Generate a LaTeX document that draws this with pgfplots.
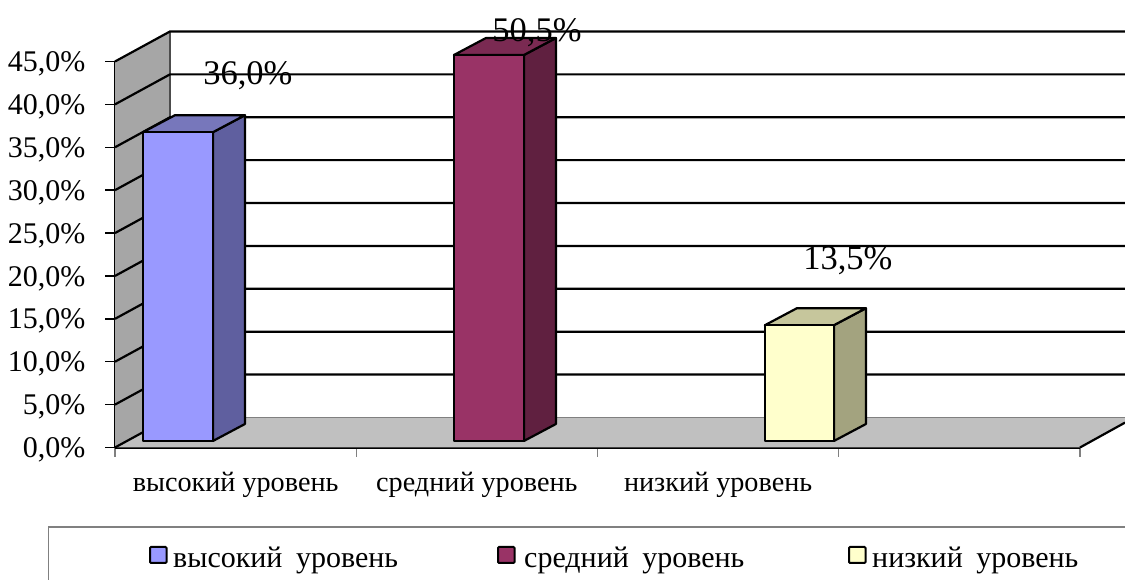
\documentclass[border=0pt]{standalone}
\usepackage{fontspec}
\setmainfont{Liberation Serif}
\usepackage{pgfplots}
\pgfplotsset{compat=1.18}
\definecolor{wallc}{HTML}{A6A6A6}
\definecolor{floorc}{HTML}{C0C0C0}
\definecolor{edgeg}{HTML}{808080}
\definecolor{af}{HTML}{9999FF}\definecolor{as}{HTML}{5F5F9F}\definecolor{at}{HTML}{7777BB}
\definecolor{bf}{HTML}{993366}\definecolor{bs}{HTML}{602040}\definecolor{bt}{HTML}{7A2A52}
\definecolor{cf}{HTML}{FFFFCC}\definecolor{cs}{HTML}{A3A37F}\definecolor{ct}{HTML}{C6C69C}
\newcommand{\fa}{\fontsize{30}{32}\selectfont}
\newcommand{\fb}{\fontsize{28.2}{30}\selectfont}
\newcommand{\fc}{\fontsize{34.5}{36}\selectfont}
\newcommand{\fd}{\fontsize{30}{32}\selectfont}
\begin{document}
\begin{tikzpicture}[x=1pt,y=1pt]
\path[use as bounding box] (0,0) rectangle (1125,580);
\clip (0,0) rectangle (1125,580);
\begin{axis}[
  at={(115pt,132.5pt)}, anchor=south west, scale only axis,
  width=965pt, height=386pt,
  xmin=0, xmax=4, ymin=0, ymax=45, clip=false,
  axis x line*=bottom, axis y line*=left,
  axis line style={-, black, line width=2.2pt},
  tick align=outside, major tick length=9.5pt,
  xtick={0,1,2,3,4}, x tick label as interval,
  xticklabels={высокий уровень,средний уровень,низкий уровень,{}},
  xtick style={edgeg, line width=1.2pt},
  ytick={0,5,10,15,20,25,30,35,40,45},
  yticklabels={{0,0\%},{5,0\%},{10,0\%},{15,0\%},{20,0\%},{25,0\%},{30,0\%},{35,0\%},{40,0\%},{45,0\%}},
  ytick style={black, line width=1.4pt},
  yticklabel style={font=\fa, inner sep=0pt, xshift=-20pt, yshift=-2.5pt},
  xticklabel style={font=\fb, inner sep=0pt, yshift=-15.5pt},
]
% wall and floor
\addplot[fill=wallc, draw=none] coordinates {(0,0)(0.228,3.5)(0.228,48.5)(0,45)} \closedcycle;
\addplot[fill=floorc, draw=none] coordinates {(0,0)(4,0)(4.1865,2.9)(4.1865,3.5)(0.228,3.5)} -- cycle;
\addplot[edgeg, line width=1.4pt] coordinates {(0.228,3.5)(4.1865,3.5)};
\addplot[black!70, line width=1.4pt] coordinates {(0.228,3.5)(0.228,48.5)};
\addplot[black, line width=2.2pt] coordinates {(4,0)(4.1865,2.9)};
% grid
\addplot[black, line width=2.2pt] coordinates {(0,0)(0.228,3.5)};
\addplot[black, line width=2.2pt] coordinates {(0,5)(0.228,8.5)(4.1865,8.5)};
\addplot[black, line width=2.2pt] coordinates {(0,10)(0.228,13.5)(4.1865,13.5)};
\addplot[black, line width=2.2pt] coordinates {(0,15)(0.228,18.5)(4.1865,18.5)};
\addplot[black, line width=2.2pt] coordinates {(0,20)(0.228,23.5)(4.1865,23.5)};
\addplot[black, line width=2.2pt] coordinates {(0,25)(0.228,28.5)(4.1865,28.5)};
\addplot[black, line width=2.2pt] coordinates {(0,30)(0.228,33.5)(4.1865,33.5)};
\addplot[black, line width=2.2pt] coordinates {(0,35)(0.228,38.5)(4.1865,38.5)};
\addplot[black, line width=2.2pt] coordinates {(0,40)(0.228,43.5)(4.1865,43.5)};
\addplot[black, line width=2.2pt] coordinates {(0,45)(0.228,48.5)(4.1865,48.5)};
% bar 1: 36.0
\addplot[fill=as, draw=black, line width=2.2pt, yshift=6.5pt, line join=round] coordinates {(0.406,0)(0.5386,1.98)(0.5386,37.98)(0.406,36)} -- cycle;
\addplot[fill=at, draw=black, line width=2.2pt, yshift=6.5pt, line join=round] coordinates {(0.116,36)(0.2486,37.98)(0.5386,37.98)(0.406,36)} -- cycle;
\addplot[fill=af, draw=black, line width=2.2pt, yshift=6.5pt, line join=round] coordinates {(0.116,0)(0.116,36)(0.406,36)(0.406,0)} -- cycle;
% bar 2: 50.5, cut off at the axis top 45
\addplot[fill=bs, draw=black, line width=2.2pt, yshift=6.5pt, line join=round] coordinates {(1.695,0)(1.8276,1.98)(1.8276,46.98)(1.695,45)} -- cycle;
\addplot[fill=bt, draw=black, line width=2.2pt, yshift=6.5pt, line join=round] coordinates {(1.405,45)(1.5376,46.98)(1.8276,46.98)(1.695,45)} -- cycle;
\addplot[fill=bf, draw=black, line width=2.2pt, yshift=6.5pt, line join=round] coordinates {(1.405,0)(1.405,45)(1.695,45)(1.695,0)} -- cycle;
% bar 3: 13.5
\addplot[fill=cs, draw=black, line width=2.2pt, yshift=6.5pt, line join=round] coordinates {(2.98,0)(3.1126,1.98)(3.1126,15.48)(2.98,13.5)} -- cycle;
\addplot[fill=ct, draw=black, line width=2.2pt, yshift=6.5pt, line join=round] coordinates {(2.694,13.5)(2.8266,15.48)(3.1126,15.48)(2.98,13.5)} -- cycle;
\addplot[fill=cf, draw=black, line width=2.2pt, yshift=6.5pt, line join=round] coordinates {(2.694,0)(2.694,13.5)(2.98,13.5)(2.98,0)} -- cycle;
% data labels
\node[font=\fc, inner sep=0pt] at (axis cs:0.551,43.3) {36,0\%};
\node[font=\fc, inner sep=0pt] at (axis cs:1.749,48.35) {50,5\%};
\node[font=\fc, inner sep=0pt] at (axis cs:3.038,21.75) {13,5\%};
\end{axis}
% legend
\draw[edgeg, line width=1.2pt] (1125,53) -- (48.5,53) -- (48.5,0);
\draw[black, fill=af, line width=2pt, rounded corners=1pt] (150,17) rectangle (166.5,33);
\draw[black, fill=bf, line width=2pt, rounded corners=1pt] (498,17) rectangle (514.5,33);
\draw[black, fill=cf, line width=2pt, rounded corners=1pt] (849,17) rectangle (865.5,33);
\node[font=\fd, anchor=base west, inner sep=0pt] at (173,12) {высокий\hspace{6pt} уровень};
\node[font=\fd, anchor=base west, inner sep=0pt] at (524,12) {средний\hspace{6pt} уровень};
\node[font=\fd, anchor=base west, inner sep=0pt] at (872,12) {низкий\hspace{6pt} уровень};
\end{tikzpicture}
\end{document}
